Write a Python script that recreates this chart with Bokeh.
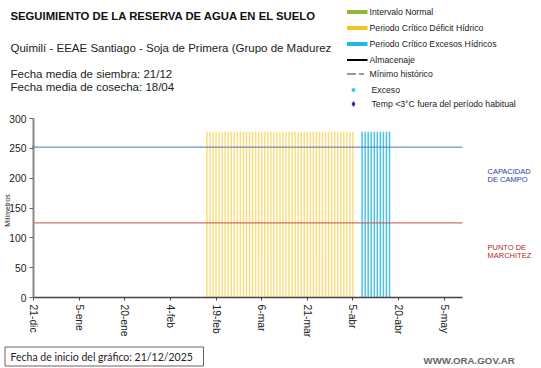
from bokeh.plotting import figure
from bokeh.models import Range1d, FixedTicker, LinearAxis
from bokeh.embed import file_html
from bokeh.resources import INLINE
from bokeh.core.properties import value

FONT = "Liberation Sans"

# ---------------- data ----------------
title_text = "SEGUIMIENTO DE LA RESERVA DE AGUA  EN EL SUELO"
subtitle_text = "Quimilí  - EEAE Santiago - Soja de Primera (Grupo de Madurez"
sowing_text = "Fecha media de siembra: 21/12"
harvest_text = "Fecha media de cosecha: 18/04"
start_text = "Fecha de inicio del gráfico:   21/12/2025"
site_text = "WWW.ORA.GOV.AR"
y_label = "Milímetros"

legend_labels = ["Intervalo Normal", "Periodo Crítico Déficit Hídrico",
                 "Periodo Crítico Excesos Hídricos", "Almacenaje",
                 "Mínimo histórico", "Exceso",
                 "Temp <3°C fuera del período habitual"]

# x in days since 21-dic
tick_days = [0, 15, 30, 45, 60, 75, 90, 105, 120, 135]
tick_labels = ["21-dic", "5-ene", "20-ene", "4-feb", "19-feb", "6-mar",
               "21-mar", "5-abr", "20-abr", "5-may"]
y_ticks = [0, 50, 100, 150, 200, 250, 300]
x_end = 141
y_end = 300

deficit_days = [57, 58, 59, 60, 61, 62, 63, 64, 65, 66, 67, 68, 69, 70, 71,
                72, 73, 74, 75, 76, 77, 78, 79, 80, 81, 82, 83, 84, 85, 86,
                87, 88, 89, 90, 91, 92, 93, 94, 95, 96, 97, 98, 99, 100, 101,
                102, 103, 104, 105]
excess_days = [108, 109, 110, 111, 112, 113, 114, 115, 116, 117]
period_bar_top = 278

field_capacity = 252
wilting_point = 125
exceso_days = [0]
exceso_values = [252]

capacity_label = ["CAPACIDAD", "DE  CAMPO"]
wilting_label = ["PUNTO  DE", "MARCHITEZ"]

# ---------------- layout (pixels inside the figure) ----------------
W, H = 541, 368
PL, PR = 33, 462      # plot area left / right
PT, PB = 118, 297     # plot area top / bottom
sx = (PR - PL) / x_end
sy = (PB - PT) / y_end

p = figure(width=W, height=H, output_backend="svg", toolbar_location=None,
           x_axis_type=None, y_axis_type=None,
           x_range=Range1d(-PL / sx, (W - PL) / sx),
           y_range=Range1d(-(H - PB) / sy, y_end + PT / sy),
           min_border=0, outline_line_color=None)
p.grid.visible = False
p.extra_x_ranges = {"px": Range1d(0, W)}
p.extra_y_ranges = {"px": Range1d(H, 0)}

# ---- chart marks ----
p.vbar(x=deficit_days, width=0.5, top=period_bar_top, bottom=0,
       fill_color="#F4CC40", fill_alpha=0.65, line_color=None)
p.vbar(x=excess_days, width=0.5, top=period_bar_top, bottom=0,
       fill_color="#22B6D8", fill_alpha=0.8, line_color=None)
p.line(x=[0, x_end], y=[field_capacity, field_capacity], line_color="#4F75B8",
       line_width=1)
p.line(x=[0, x_end], y=[wilting_point, wilting_point], line_color="#C0504D",
       line_width=1)
p.scatter(x=exceso_days, y=exceso_values, size=5, marker="triangle",
          angle=-1.5708, fill_color="#33C6EE", line_color=None)

# ---- axes ----
xaxis = LinearAxis(fixed_location=0, bounds=(0, x_end),
                   ticker=FixedTicker(ticks=tick_days),
                   major_label_overrides={d: l for d, l in zip(tick_days, tick_labels)},
                   major_label_orientation="vertical",
                   minor_tick_line_color=None, major_tick_out=3, major_tick_in=0,
                   major_label_standoff=4, axis_line_color="#444444",
                   axis_line_width=1.5, major_tick_line_color="#444444")
yaxis = LinearAxis(fixed_location=0, bounds=(0, y_end),
                   ticker=FixedTicker(ticks=y_ticks),
                   minor_tick_line_color=None, major_tick_out=4, major_tick_in=0,
                   major_label_standoff=3, axis_line_color="#8A8A8A",
                   axis_line_width=2, major_tick_line_color="#666666")
for ax in (xaxis, yaxis):
    ax.major_label_text_font = FONT
    ax.major_label_text_font_size = "10.3px"
    ax.major_label_text_color = "#222222"
p.add_layout(xaxis, "below")
p.add_layout(yaxis, "left")

# ---- texts in pixel space ----
PX = dict(x_range_name="px", y_range_name="px")
p.text(x=[7], y=[210], text=[y_label], angle=1.5708,
       text_font=value(FONT), text_font_size="7px", text_color="#222222",
       text_align="center", text_baseline="middle", **PX)
p.text(x=[487, 487], y=[171, 179], text=capacity_label, text_font=value(FONT),
       text_font_size="7.5px", text_color="#2E3A9E", text_baseline="middle", **PX)
p.text(x=[487, 487], y=[246.7, 255], text=wilting_label, text_font=value(FONT),
       text_font_size="7.5px", text_color="#B22A2A", text_baseline="middle", **PX)

# header
p.text(x=[10], y=[15], text=[title_text], text_font=value(FONT),
       text_font_size="11.3px", text_font_style="bold", text_color="#111111",
       text_baseline="middle", **PX)
p.text(x=[10], y=[47], text=[subtitle_text], text_font=value(FONT),
       text_font_size="11.5px", text_color="#222222", text_baseline="middle", **PX)
p.text(x=[10, 10], y=[73, 86], text=[sowing_text, harvest_text],
       text_font=value(FONT), text_font_size="11.5px", text_color="#222222",
       text_baseline="middle", **PX)

# legend
lx0, lx1 = 346.5, 367
ly = [11.5, 27.5, 43.5, 59.5, 73.5, 89.5, 103.5]
patch_colors = ["#8DB934", "#F5C31A", "#1FB8E6"]
for i in range(3):
    p.quad(left=[lx0], right=[lx1], top=[ly[i] - 2], bottom=[ly[i] + 2],
           fill_color=patch_colors[i], line_color=None, **PX)
p.segment(x0=[lx0], y0=[ly[3]], x1=[lx1], y1=[ly[3]], line_color="black",
          line_width=2, **PX)
p.segment(x0=[lx0], y0=[ly[4]], x1=[lx1], y1=[ly[4]], line_color="#777777",
          line_width=1.5, line_dash="9 3 5 30", **PX)
p.scatter(x=[353], y=[ly[5]], size=4, marker="circle", fill_color="#33C6EE",
          line_color=None, **PX)
p.scatter(x=[353], y=[ly[6]], size=6, marker="diamond", fill_color="#1F2FA0",
          line_color=None, **PX)
lxt = [369, 369, 369, 369, 369, 371, 371]
p.text(x=lxt, y=ly, text=legend_labels, text_font=value(FONT),
       text_font_size="8.7px", text_color="#222222", text_baseline="middle", **PX)

# footer
p.quad(left=[4.5], right=[203], top=[346.5], bottom=[365.5], fill_color=None,
       line_color="#7A5E5E", line_width=1, **PX)
p.text(x=[10], y=[356.5], text=[start_text], text_font=value("Lato"),
       text_font_size="10.5px", text_color="#222222", text_baseline="middle", **PX)
p.text(x=[423], y=[360], text=[site_text], text_font=value(FONT),
       text_font_size="9.7px", text_font_style="bold", text_color="#666666",
       text_baseline="middle", **PX)

open("out.html", "w").write(file_html(p, INLINE))
